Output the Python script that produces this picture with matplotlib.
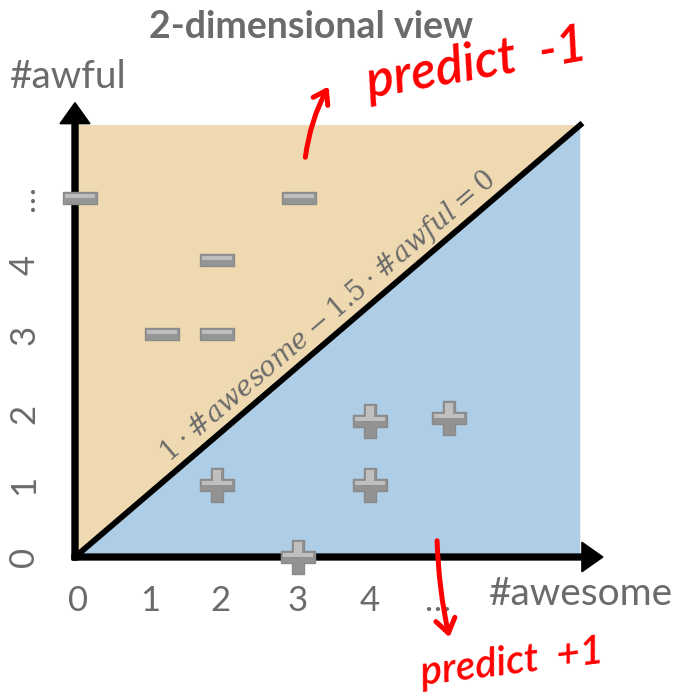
import matplotlib.pyplot as plt
from matplotlib.path import Path
import numpy as np

# tick positions and labels on both axes
x_ticks = [0.04, 1.03, 1.99, 3.05, 4.04, 4.96]
x_labels = ['0', '1', '2', '3', '4', '…']
y_ticks = [0.0, 1.0, 1.99, 3.08, 4.06, 4.97]
y_labels = ['0', '1', '2', '3', '4', '…']

# negative reviews (-) and positive reviews (+)
minus_x = [0.07, 3.07, 1.95, 1.19, 1.95]
minus_y = [4.99, 4.99, 4.12, 3.10, 3.10]
plus_x = [1.95, 3.05, 4.04, 4.04, 5.12]
plus_y = [1.00, 0.00, 1.89, 1.00, 1.93]

# corner of the shaded area, the boundary goes from origin to here
corner_x = 6.92
corner_y = 6.0

W, H = 675, 699
TAN = '#EFD9B0'
BLUE = '#AECDE6'
GRAY = '#6b6b6b'
RED = '#ff0000'

plt.rcParams['font.family'] = ['Lato', 'DejaVu Sans']
plt.rcParams['mathtext.fontset'] = 'dejavuserif'


def shape(pts):
    # leading moveto pins the marker scale so every layer shares one size
    verts = [(1.5, 1.5)] + pts + [pts[0]]
    codes = [Path.MOVETO, Path.MOVETO] + [Path.LINETO] * (len(pts) - 1) + [Path.CLOSEPOLY]
    return Path(verts, codes)


t = 0.5
bar_pts = [(-1.5, -t), (1.5, -t), (1.5, t), (-1.5, t)]
cross_pts = [(-t, 1.5), (t, 1.5), (t, t), (1.5, t), (1.5, -t), (t, -t), (t, -1.5),
             (-t, -1.5), (-t, -t), (-1.5, -t), (-1.5, t), (-t, t)]
bar_hi = [(-1.38, 0.0), (1.38, 0.0), (1.38, 0.38), (-1.38, 0.38)]
cross_hi = [(-0.38, 1.38), (0.38, 1.38), (0.38, 0.38), (1.38, 0.38), (1.38, 0.0),
            (-1.38, 0.0), (-1.38, 0.38), (-0.38, 0.38)]

fig = plt.figure(figsize=(W / 100, H / 100), dpi=100)
# axes origin sits on the corner of the two arrows
ax = fig.add_axes([75 / W, (H - 557) / H, 533 / W, 453.6 / H])
ax.set_xlim(0, 7.3)
ax.set_ylim(0, 6.3)
for s in ax.spines.values():
    s.set_visible(False)
ax.patch.set_alpha(0)

# the two half-planes
ax.fill([0, 0, corner_x], [0, corner_y, corner_y], color=TAN, lw=0, zorder=1)
ax.fill([0, corner_x, corner_x], [0, corner_y, 0], color=BLUE, lw=0, zorder=1)
ax.plot([0, corner_x], [0, corner_y], color='black', lw=4.2,
        solid_capstyle='projecting', zorder=2, clip_on=False)

# axis arrows
ax.arrow(-0.04, 0, 7.27, 0, width=6 / 73, head_width=30 / 73, head_length=21 / 73,
         length_includes_head=True, color='black', clip_on=False, zorder=3)
ax.arrow(0, -0.04, 0, 6.35, width=6 / 73, head_width=30 / 73, head_length=21 / 72,
         length_includes_head=True, color='black', clip_on=False, zorder=3)

# markers: flat bar for minus, cross for plus, with a lighter upper half
S = 580
ax.scatter(minus_x, minus_y, marker=shape(bar_pts), s=S, c='#959595',
           edgecolors='#8a8a8a', linewidths=1.0, zorder=4, clip_on=False)
ax.scatter(minus_x, minus_y, marker=shape(bar_hi), s=S, c='#bdbdbd',
           linewidths=0, zorder=5, clip_on=False)
ax.scatter(plus_x, plus_y, marker=shape(cross_pts), s=S, c='#929292',
           edgecolors='#8a8a8a', linewidths=1.0, zorder=4, clip_on=False)
ax.scatter(plus_x, plus_y, marker=shape(cross_hi), s=S, c='#bfbfbf',
           linewidths=0, zorder=5, clip_on=False)

ax.set_xticks(x_ticks, x_labels)
ax.set_yticks(y_ticks, y_labels)
ax.tick_params(length=0, labelsize=25, labelcolor=GRAY)
ax.tick_params(axis='x', pad=20)
ax.tick_params(axis='y', pad=25)
for lab in ax.get_yticklabels():
    lab.set_rotation(90)
    lab.set_va('center')

# boundary equation written along the line
ang = np.degrees(np.arctan2(corner_y * 72, corner_x * 73))
ax.text(3.47, 3.34, r'$1\cdot$#$awesome-1.5\cdot$#$awful=0$', fontsize=19.5,
        family='DejaVu Serif', color=GRAY, rotation=ang, rotation_mode='anchor',
        ha='center', va='center', zorder=6)

fig.text(311 / W, 1 - 27 / H, '2-dimensional view', fontsize=27, fontweight='bold',
         color=GRAY, ha='center', va='center')
fig.text(10 / W, 1 - 77 / H, '#awful', fontsize=28, color=GRAY, ha='left', va='center')
fig.text(673 / W, 1 - 594 / H, '#awesome', fontsize=28, color=GRAY, ha='right',
         va='center')

# hand-written notes
ax.annotate('', xy=(330, H - 84), xytext=(305, H - 160), xycoords='figure pixels',
            textcoords='figure pixels',
            arrowprops=dict(arrowstyle='->,head_length=0.9,head_width=0.6', color=RED,
                            lw=3.6, connectionstyle='arc3,rad=-0.1'))
fig.text(476 / W, 1 - 64 / H, 'predict  -1', fontsize=37, color=RED, fontstyle='italic',
         fontweight='semibold', rotation=10, ha='center', va='center')
ax.annotate('', xy=(450, H - 640), xytext=(437, H - 538), xycoords='figure pixels',
            textcoords='figure pixels',
            arrowprops=dict(arrowstyle='->,head_length=1.0,head_width=0.7', color=RED,
                            lw=3.6, connectionstyle='arc3,rad=0.05'))
fig.text(512 / W, 1 - 662 / H, 'predict  +1', fontsize=29, color=RED, fontstyle='italic',
         fontweight='semibold', rotation=7, ha='center', va='center')

fig.savefig('out.png', dpi=100)
